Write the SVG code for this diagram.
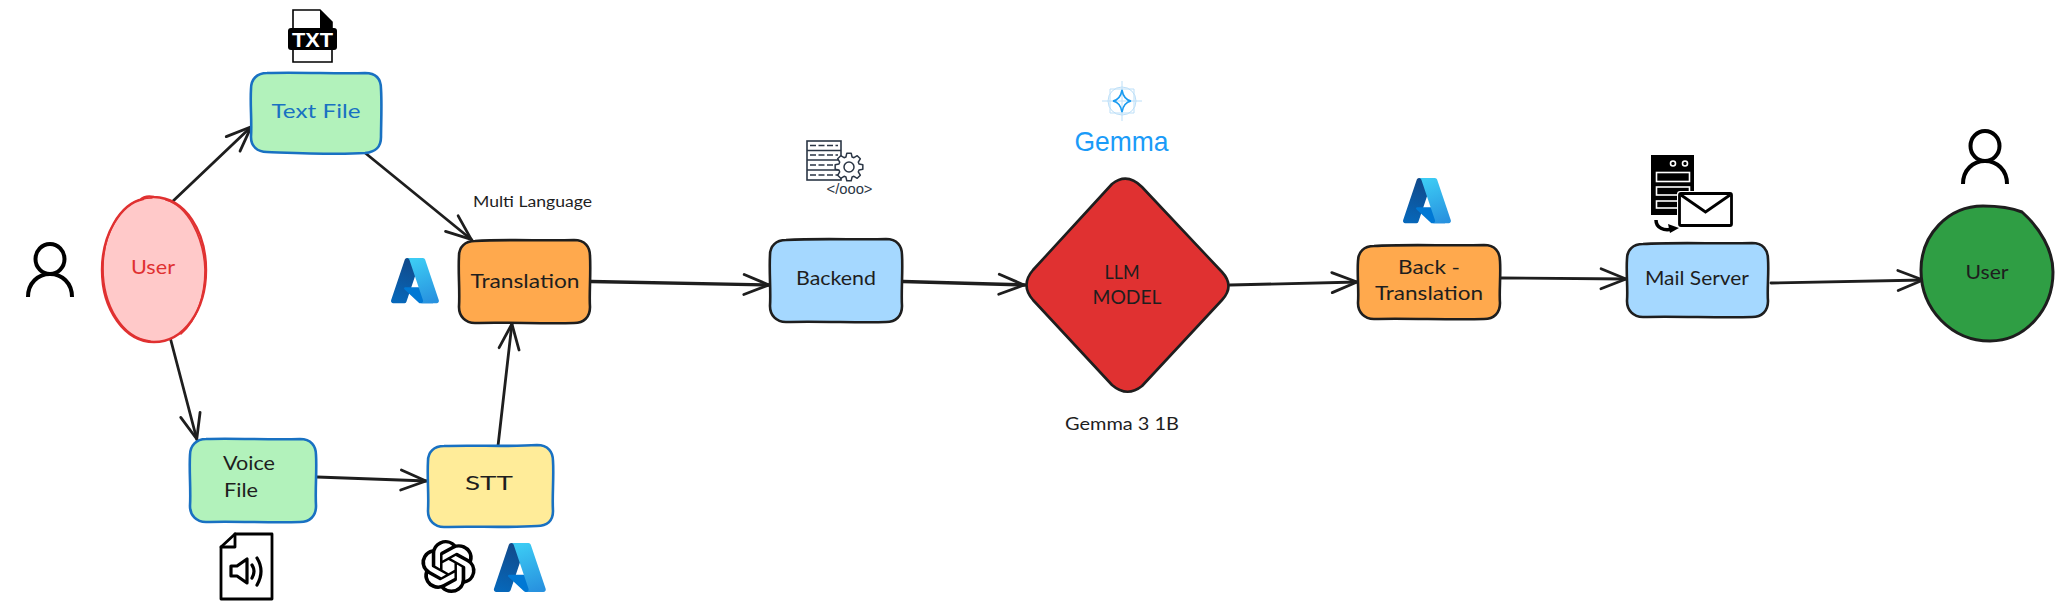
<svg xmlns="http://www.w3.org/2000/svg" width="2062" height="609" viewBox="0 0 2062 609">
<style>
.lbl{font-family:"Lato","Open Sans",sans-serif;font-size:19px;fill:#1e1e1e;text-anchor:middle}
.n{stroke-width:2.600;stroke-linejoin:round;stroke-linecap:round}
.b{stroke:#1971c2}.k{stroke:#1e1e1e}
.g{fill:#b2f2bb}.o{fill:#ffa94d}.s{fill:#a5d8ff}.y{fill:#ffec99}
.c{fill:none;stroke:#1e1e1e;stroke-width:2.800;stroke-linecap:round;marker-end:url(#ah)}
.t{stroke-width:3.400}
.ic{fill:none;stroke:#000;stroke-linecap:round;stroke-linejoin:round}
</style>
<defs>
<marker id="ah" markerUnits="userSpaceOnUse" markerWidth="34" markerHeight="28" refX="29" refY="14" orient="auto" overflow="visible">
<path d="M3,4 L28,14 L3,24" fill="none" stroke="#1e1e1e" stroke-width="2.800" stroke-linecap="round" stroke-linejoin="round"/>
</marker>
<linearGradient id="az1" gradientUnits="userSpaceOnUse" x1="42" y1="12" x2="15" y2="92"><stop offset="0" stop-color="#114a8b"/><stop offset="1" stop-color="#0669bc"/></linearGradient>
<linearGradient id="az2" gradientUnits="userSpaceOnUse" x1="46" y1="10" x2="75" y2="88"><stop offset="0" stop-color="#3ccbf4"/><stop offset="1" stop-color="#2892df"/></linearGradient>
<g id="azure">
<path fill="url(#az1)" d="M33.340 6.540h26.040l-27.030 80.100a4.150 4.150 0 0 1-3.940 2.810H8.150a4.140 4.140 0 0 1-3.930-5.470L29.400 9.380a4.150 4.150 0 0 1 3.940-2.830z"/>
<path fill="#0078d4" d="M71.170 60.260H29.880a1.910 1.910 0 0 0-1.300 3.310l26.530 24.760a4.170 4.170 0 0 0 2.850 1.110h23.380z"/>
<path fill="url(#az2)" d="M66.600 9.360a4.140 4.140 0 0 0-3.930-2.820H33.650a4.150 4.150 0 0 1 3.930 2.820l25.180 74.620a4.150 4.150 0 0 1-3.930 5.480h29.020a4.150 4.150 0 0 0 3.930-5.480z"/>
</g>
<g id="person" class="ic" stroke-width="4">
<ellipse cx="0" cy="0" rx="14.500" ry="15"/>
<path d="M-22,38 C-22,24 -12,15 0,15 C12,15 22,24 22,38" stroke-linecap="butt"/>
</g>
</defs>
<rect width="2062" height="609" fill="#fff"/>

<g id="connectors">
<path class="c" d="M172,202 L252,126"/>
<path class="c" d="M364,152 L472,240"/>
<path class="c" d="M170,337 L197,440"/>
<path class="c" d="M317,477 L427,481"/>
<path class="c" d="M498,446 L512,323"/>
<path class="c t" d="M591,281.500 L770,285"/>
<path class="c t" d="M903,281.500 L1025,285"/>
<path class="c" d="M1230,285 L1358,282"/>
<path class="c" d="M1501,278 L1627,279"/>
<path class="c" d="M1771,283 L1924,280"/>
</g>

<g id="node-user-left">
<ellipse cx="154" cy="270" rx="52" ry="72" fill="#ffc9c9"/>
<path d="M143,199 C120,204 102,235 102,270 C102,310 125,342 154,342 C184,342 206,310 206,270 C206,232 186,198 154,197 C149,196 143,197 140,200" fill="none" stroke="#e03131" stroke-width="2.400" stroke-linecap="round"/>
<path d="M152,198 C122,198 103,232 103,268 C103,305 122,338 150,341 M181,334 C197,320 205,296 205,270 C204,238 188,206 166,200" fill="none" stroke="#e03131" stroke-width="1.600" stroke-linecap="round"/>
<text class="lbl" x="153" y="274" style="fill:#e03131" textLength="44" lengthAdjust="spacingAndGlyphs">User</text>
</g>
<g id="icon-person-left"><use href="#person" x="50" y="259"/></g>

<g id="node-text-file">
<path class="n b g" d="M267,73 C300,72 340,74 365,73 C376,73 381,79 381,89 C382,105 381,125 381,137 C381,148 375,152 365,153 C335,155 295,153 267,152 C257,152 251,146 251,137 C252,120 250,105 251,89 C251,79 257,73 267,73Z"/>
<text class="lbl" x="316" y="118" style="fill:#1971c2" textLength="89" lengthAdjust="spacingAndGlyphs">Text File</text>
</g>
<g id="icon-txt">
<path d="M293,10 H320 L332,22 V62 H293Z" fill="#fff" stroke="#000" stroke-width="1.600"/>
<path d="M320,10 L332,22 V28 H320Z" fill="#000"/>
<rect x="288" y="28" width="49" height="22" rx="3" fill="#000"/>
<text x="312.500" y="47" font-family="Liberation Sans,sans-serif" font-weight="700" font-size="21" fill="#fff" text-anchor="middle" textLength="41" lengthAdjust="spacingAndGlyphs">TXT</text>
</g>

<g id="node-voice-file">
<path class="n b g" d="M206,439 C235,438 270,440 300,439 C311,439 316,446 316,455 C317,470 315,490 316,506 C316,516 310,522 300,522 C270,523 235,521 206,522 C196,522 190,515 190,506 C191,490 189,470 190,455 C190,446 196,439 206,439Z"/>
<text class="lbl" x="249" y="470" textLength="52" lengthAdjust="spacingAndGlyphs">Voice</text>
<text class="lbl" x="241" y="497" textLength="34" lengthAdjust="spacingAndGlyphs">File</text>
</g>
<g id="icon-voice" class="ic">
<path d="M235,534 H272 V599 H221 V547Z" fill="#fff" stroke-width="2.800"/>
<path d="M235,534 V547 H221" stroke-width="2.800"/>
<path d="M231,566 H237 L247,559 V583 L237,576 H231Z" stroke-width="3.200"/>
<path d="M252,565 Q256,571 252,578 M257,558 Q265,571 257,585" stroke-width="3.200"/>
</g>

<g id="node-stt">
<path class="n b y" d="M444,446 C475,445 510,447 537,445 C548,445 553,452 553,461 C554,478 552,497 553,511 C553,521 547,526 537,526 C505,528 475,526 444,527 C434,527 428,520 428,511 C429,495 427,478 428,461 C428,452 434,446 444,446Z"/>
<text class="lbl" x="489" y="490" textLength="48" lengthAdjust="spacingAndGlyphs">STT</text>
</g>
<g id="icon-openai">
<path transform="translate(421,540) scale(2.290,2.210)" fill="#000" d="M22.2819 9.8211a5.9847 5.9847 0 0 0-.5157-4.9108 6.0462 6.0462 0 0 0-6.5098-2.9A6.0651 6.0651 0 0 0 4.9807 4.1818a5.9847 5.9847 0 0 0-3.9977 2.9 6.0462 6.0462 0 0 0 .7427 7.0966 5.98 5.98 0 0 0 .511 4.9107 6.051 6.051 0 0 0 6.5146 2.9001A5.9847 5.9847 0 0 0 13.2599 24a6.0557 6.0557 0 0 0 5.7718-4.2058 5.9894 5.9894 0 0 0 3.9977-2.9001 6.0557 6.0557 0 0 0-.7475-7.0729zm-9.022 12.6081a4.4755 4.4755 0 0 1-2.8764-1.0408l.1419-.0804 4.7783-2.7582a.7948.7948 0 0 0 .3927-.6813v-6.7369l2.02 1.1686a.071.071 0 0 1 .038.052v5.5826a4.504 4.504 0 0 1-4.4945 4.4944zm-9.6607-4.1254a4.4708 4.4708 0 0 1-.5346-3.0137l.142.0852 4.783 2.7582a.7712.7712 0 0 0 .7806 0l5.8428-3.3685v2.3324a.0804.0804 0 0 1-.0332.0615L9.74 19.9502a4.4992 4.4992 0 0 1-6.1408-1.6464zM2.3408 7.8956a4.485 4.485 0 0 1 2.3655-1.9728V11.6a.7664.7664 0 0 0 .3879.6765l5.8144 3.3543-2.0201 1.1685a.0757.0757 0 0 1-.071 0l-4.8303-2.7865A4.504 4.504 0 0 1 2.3408 7.872zm16.5963 3.8558L13.1038 8.364 15.1192 7.2a.0757.0757 0 0 1 .071 0l4.8303 2.7913a4.4944 4.4944 0 0 1-.6765 8.1042v-5.6772a.79.79 0 0 0-.407-.667zm2.0107-3.0231l-.142-.0852-4.7735-2.7818a.7759.7759 0 0 0-.7854 0L9.409 9.2297V6.8974a.0662.0662 0 0 1 .0284-.0615l4.8303-2.7866a4.4992 4.4992 0 0 1 6.6802 4.66zM8.3065 12.863l-2.02-1.1638a.0804.0804 0 0 1-.038-.0567V6.0742a4.4992 4.4992 0 0 1 7.3757-3.4537l-.142.0805L8.704 5.459a.7948.7948 0 0 0-.3927.6813zm1.0976-2.3654l2.602-1.4998 2.6069 1.4998v2.9994l-2.5974 1.4997-2.6067-1.4997Z"/>
</g>
<g id="icon-azure-stt"><use href="#azure" transform="translate(491.500,539.200) scale(0.590)"/></g>

<g id="node-translation">
<path class="n k o" d="M475,241 C505,239 545,241 574,240 C585,240 590,247 590,256 C591,275 589,295 590,307 C590,317 584,323 574,323 C545,324 505,322 475,323 C465,323 459,316 459,307 C460,290 458,272 459,256 C459,247 465,241 475,241Z"/>
<text class="lbl" x="525" y="288" textLength="109" lengthAdjust="spacingAndGlyphs">Translation</text>
</g>
<g id="icon-azure-translation"><use href="#azure" transform="translate(388.800,254.500) scale(0.545)"/></g>
<text id="label-multi" class="lbl" x="532.500" y="207" style="font-size:14.500px" textLength="119" lengthAdjust="spacingAndGlyphs">Multi Language</text>

<g id="node-backend">
<path class="n k s" d="M786,240 C820,238 860,240 886,239 C897,239 902,246 902,255 C903,272 901,292 902,306 C902,316 896,322 886,322 C860,323 820,321 786,322 C776,322 770,315 770,306 C771,290 769,272 770,255 C770,246 776,240 786,240Z"/>
<text class="lbl" x="836" y="285" textLength="80" lengthAdjust="spacingAndGlyphs">Backend</text>
</g>
<g id="icon-backend">
<rect x="807" y="141" width="34" height="39" fill="#fff" stroke="#2b3645" stroke-width="1.600"/>
<path d="M807,150.500 H841 M807,160 H841 M807,170 H841" stroke="#2b3645" stroke-width="1.600"/>
<path d="M810,145.500 H838 M810,155 H838 M810,165 H838 M810,175 H838" stroke="#2b3645" stroke-width="1.400" stroke-dasharray="6 2.500"/>
<path transform="translate(849,167)" fill="#fff" stroke="#2b3645" stroke-width="1.500" stroke-linejoin="round" d="M10.04,-3.07 L13.83,-2.19 L13.83,2.19 L10.04,3.07 L9.27,4.93 L11.33,8.23 L8.23,11.33 L4.93,9.27 L3.07,10.04 L2.19,13.83 L-2.19,13.83 L-3.07,10.04 L-4.93,9.27 L-8.23,11.33 L-11.33,8.23 L-9.27,4.93 L-10.04,3.07 L-13.83,2.19 L-13.83,-2.19 L-10.04,-3.07 L-9.27,-4.93 L-11.33,-8.23 L-8.23,-11.33 L-4.93,-9.27 L-3.07,-10.04 L-2.19,-13.83 L2.19,-13.83 L3.07,-10.04 L4.93,-9.27 L8.23,-11.33 L11.33,-8.23 L9.27,-4.93Z"/>
<circle cx="849" cy="167" r="5" fill="#fff" stroke="#2b3645" stroke-width="1.500"/>
<text x="849.500" y="193.500" font-family="Liberation Sans,sans-serif" font-size="15" fill="#2b3645" text-anchor="middle" textLength="46" lengthAdjust="spacingAndGlyphs">&lt;/ooo&gt;</text>
</g>

<g id="node-llm">
<path class="n k" fill="#e03131" d="M1112,184 Q1127,172 1142,187 L1222,272 Q1235,286 1222,300 L1142,386 Q1127,398 1112,385 L1033,300 Q1020,285 1033,270 Z"/>
<text class="lbl" x="1122" y="279" textLength="35" lengthAdjust="spacingAndGlyphs">LLM</text>
<text class="lbl" x="1127" y="304" textLength="69" lengthAdjust="spacingAndGlyphs">MODEL</text>
</g>
<g id="icon-gemma">
<g fill="none" stroke="#bcdff8" stroke-width="1">
<path d="M1122,81 V121 M1102,101 H1142 M1110,89 H1134 V113 H1110Z"/>
<circle cx="1122" cy="101" r="14"/>
</g>
<path d="M1122,90 C1123,96 1126,100 1131,101 C1126,102 1123,106 1122,112 C1121,106 1118,102 1113,101 C1118,100 1121,96 1122,90Z" fill="none" stroke="#1a9bf0" stroke-width="1.600"/>
<text x="1121.500" y="151" font-family="Liberation Sans,sans-serif" font-size="28" fill="#1a9bf8" text-anchor="middle" textLength="94" lengthAdjust="spacingAndGlyphs">Gemma</text>
</g>
<text id="label-gemma" class="lbl" x="1122" y="430" style="font-size:17px" textLength="114" lengthAdjust="spacingAndGlyphs">Gemma 3 1B</text>

<g id="node-back-translation">
<path class="n k o" d="M1374,246 C1405,244 1450,246 1484,245 C1495,245 1500,252 1500,261 C1501,275 1499,292 1500,303 C1500,313 1494,319 1484,319 C1450,320 1405,318 1374,319 C1364,319 1358,312 1358,303 C1359,290 1357,275 1358,261 C1358,252 1364,246 1374,246Z"/>
<text class="lbl" x="1429" y="274" textLength="62" lengthAdjust="spacingAndGlyphs">Back -</text>
<text class="lbl" x="1429" y="300" textLength="108" lengthAdjust="spacingAndGlyphs">Translation</text>
</g>
<g id="icon-azure-back"><use href="#azure" transform="translate(1400.800,174.500) scale(0.545)"/></g>

<g id="node-mail">
<path class="n k s" d="M1643,244 C1675,242 1720,244 1752,243 C1763,243 1768,250 1768,259 C1769,273 1767,290 1768,301 C1768,311 1762,317 1752,317 C1720,318 1675,316 1643,317 C1633,317 1627,310 1627,301 C1628,288 1626,273 1627,259 C1627,250 1633,244 1643,244Z"/>
<text class="lbl" x="1697" y="285" textLength="104" lengthAdjust="spacingAndGlyphs">Mail Server</text>
</g>
<g id="icon-mail">
<rect x="1651" y="155" width="43" height="60" fill="#000"/>
<circle cx="1673" cy="163.500" r="2.500" fill="none" stroke="#fff" stroke-width="1.600"/>
<circle cx="1685" cy="163.500" r="2.500" fill="none" stroke="#fff" stroke-width="1.600"/>
<rect x="1656.500" y="172.500" width="33" height="9" fill="none" stroke="#fff" stroke-width="1.600"/>
<rect x="1656.500" y="187" width="33" height="8" fill="none" stroke="#fff" stroke-width="1.600"/>
<rect x="1656.500" y="201" width="33" height="7" fill="none" stroke="#fff" stroke-width="1.600"/>
<rect x="1677" y="191" width="57" height="37" rx="3" fill="#fff"/>
<rect x="1679.500" y="193.500" width="52" height="32" rx="1.500" fill="#fff" stroke="#000" stroke-width="2.800"/>
<path d="M1681,195 L1705.500,212 L1730,195" fill="none" stroke="#000" stroke-width="2.800"/>
<path d="M1656,220 C1656,228 1664,231 1672,229" fill="none" stroke="#000" stroke-width="3.500"/>
<path d="M1668,224 L1679,228 L1670,233Z" fill="#000"/>
</g>

<g id="node-user-right">
<path d="M1983,206 C1998,206 2012,208 2022,212 C2040,228 2053,250 2053,272 C2053,310 2025,341 1990,341 C1952,341 1921,310 1921,270 C1921,235 1948,206 1983,206Z" fill="#2f9e44" stroke="#1e1e1e" stroke-width="3" stroke-linejoin="round"/>
<text class="lbl" x="1987" y="279" textLength="43" lengthAdjust="spacingAndGlyphs">User</text>
</g>
<g id="icon-person-right"><use href="#person" x="1985" y="146"/></g>
</svg>
